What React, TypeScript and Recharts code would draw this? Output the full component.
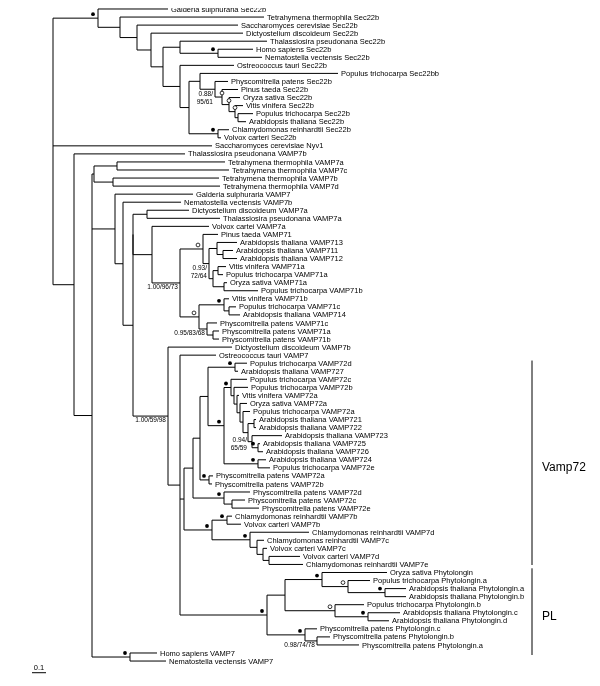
import React from "react";
import { ComposedChart, XAxis, YAxis, Scatter, ReferenceLine } from "recharts";

// Tree in Newick form; the number after ":" is the node's depth (tree units, 14 units = 0.1 substitutions)
const NEWICK = `
(
(Galderia sulphuraria Sec22b:168,
 (Tetrahymena thermophila Sec22b:264,
  (Saccharomyces cerevisiae Sec22b:238,
   (Dictyostelium discoideum Sec22b:243,
    ((Thalassiosira pseudonana Sec22b:267,
      (Homo sapiens Sec22b:253,Nematostella vectensis Sec22b:262)hs22:218
     ):180,
     (Ostreococcus tauri Sec22b:234,
      ((Populus trichocarpa Sec22bb:338,
        (Physcomitrella patens Sec22b:228,
         (Pinus taeda Sec22b:238,
          (Oryza sativa Sec22b:240,
           (Vitis vinifera Sec22b:243,
            (Populus trichocarpa Sec22b:253,Arabidopsis thaliana Sec22b:246):238
           )s13:235
          )s12:229
         )s11:222
        )s10:215
       ):200,
       (Chlamydomonas reinhardtii Sec22b:229,Volvox carteri Sec22b:221)cr22:218
      ):189
     ):180
    ):163
   ):151
  ):137
 ):120
)sec:98,
Saccharomyces cerevisiae Nyv1:212,
(Thalassiosira pseudonana VAMP7b:185,
 (((Tetrahymena thermophila VAMP7a:225,Tetrahymena thermophila VAMP7c:229):117,
   (Tetrahymena thermophila VAMP7b:219,Tetrahymena thermophila VAMP7d:220):113
  ):94,
  ((Galderia sulphuraria VAMP7:193,
    (Nematostella vectensis VAMP7b:181,
     (((Dictyostelium discoideum VAMP7a:189,Thalassiosira pseudonana VAMP7a:220):147,
       (Volvox cartei VAMP7a:209,
        ((Pinus taeda VAMP71:218,
          ((Arabidopsis thaliana VAMP713:237,
            (Arabidopsis thaliana VAMP711:233,Arabidopsis thaliana VAMP712:237):223
           ):217,
           ((Vitis vinifera VAMP71a:226,Populus trichocarpa VAMP71a:223):218,
            (Oryza sativa VAMP71a:227,Populus trichocarpa VAMP71b:258):224
           ):213
          )v71a2:209
         )v71a:203,
         ((Vitis vinifera VAMP71b:229,
           (Populus trichocarpa VAMP71c:236,Arabidopsis thaliana VAMP714:240):229
          )vv71:224,
          (Physcomitrella patens VAMP71c:217,
           (Physcomitrella patens VAMP71a:219,Physcomitrella patens VAMP71b:219):213
          )pp71:207
         )v71b:199
        )v71:180
       ):152
      ):133,
      (Dictyostelium discoideum VAMP7b:232,
       (Ostreococcus tauri VAMP7:216,
        (((((Populus trichocarpa VAMP72d:247,Arabidopsis thaliana VAMP727:238)pa:235,
             ((Populus trichocarpa VAMP72c:247,
               (Populus trichocarpa VAMP72b:248,
                (Vitis vinifera VAMP72a:239,
                 (Oryza sativa VAMP72a:247,
                  (Populus trichocarpa VAMP72a:250,
                   ((Arabidopsis thaliana VAMP721:256,Arabidopsis thaliana VAMP722:256):254,
                    (Arabidopsis thaliana VAMP723:282,
                     (Arabidopsis thaliana VAMP725:260,Arabidopsis thaliana VAMP726:263)a725:258
                    )a723:252
                   ):248
                  ):243
                 ):240
                ):237
               ):234
              )pb:231,
              (Arabidopsis thaliana VAMP724:266,Populus trichocarpa VAMP72e:270)pe:258
             )p224:224
            ):208,
            (Physcomitrella patens VAMP72a:213,Physcomitrella patens VAMP72b:212)ppab:209
           ):200,
           (Physcomitrella patens VAMP72d:250,
            (Physcomitrella patens VAMP72c:245,Physcomitrella patens VAMP72e:259):232
           )ppd:224
          ):193,
          ((Chlamydomonas reinhardtii VAMP7b:232,Volvox carteri VAMP7b:241)cv7b:227,
           (Chlamydomonas reinhardtii VAMP7d:309,
            (Chlamydomonas reinhardtii VAMP7c:264,
             (Volvox carteri VAMP7c:267,
              (Volvox carteri VAMP7d:300,Chlamydomonas reinhardtii VAMP7e:303):269
             ):263
            ):257
           )c7d:250
          )chl7:212
         ):184,
         (((Oryza sativa Phytolongin:387,
            (Populus trichocarpa Phytolongin.a:370,
             (Arabidopsis thaliana Phytolongin.a:406,Arabidopsis thaliana Phytolongin.b:406)apl:385
            )ppla:348
           )ospl:322,
           (Populus trichocarpa Phytolongin.b:364,
            (Arabidopsis thaliana Phytolongin.c:400,Arabidopsis thaliana Phytolongin.d:389)apcd:368
           )pplb:335
          ):285,
          (Physcomitrella patens Phytolongin.c:317,
           (Physcomitrella patens Phytolongin.b:330,Physcomitrella patens Phytolongin.a:359)ppba:317
          )pppl:305
         )pl:267
        ):180
       )v168:168
      ):133
     ):123
    ):115
   ):102,
   (Homo sapiens VAMP7:157,Nematostella vectensis VAMP7:166)hn7:130
  ):92
 ):74
):53
)root:29;
`;

const FILLED_NODES = ["sec", "hs22", "cr22", "vv71", "pa", "pb", "p224", "a725", "pe", "ppab", "ppd", "cv7b", "chl7", "c7d", "pl", "ospl", "apl", "apcd", "pppl", "hn7"];
const OPEN_NODES = ["s11", "s12", "s13", "v71a", "v71b", "ppla", "pplb"];

const SUPPORT_NODES = ["s10", "v71a2", "v71", "pp71", "v168", "a723", "ppba"];
const SUPPORT_TEXT = [["0.88/", "95/61"], ["0.93/", "72/64"], ["1.00/96/73"], ["0.95/83/68"], ["1.00/59/98"], ["0.94/", "65/59"], ["0.98/74/78"]];

const CLADE_NAMES = ["Vamp72", "PL"];
const CLADE_FROM = [44.67, 70.48]; // leaf rows
const CLADE_TO = [70.07, 81.25];

const SCALE_LENGTH = 14; // tree units
const SCALE_LABEL = "0.1";

type TNode = { name: string; x: number; y: number; children: TNode[]; parent?: TNode };

function parseNewick(src: string): TNode {
  const s = src.replace(/\s*([(),:;])\s*/g, "$1").trim();
  let i = 0;
  const node = (): TNode => {
    const children: TNode[] = [];
    if (s[i] === "(") {
      i++;
      children.push(node());
      while (s[i] === ",") {
        i++;
        children.push(node());
      }
      i++;
    }
    let name = "";
    while (i < s.length && !":,);".includes(s[i])) name += s[i++];
    let x = 0;
    if (s[i] === ":") {
      i++;
      let num = "";
      while (i < s.length && /[0-9.\-]/.test(s[i])) num += s[i++];
      x = parseFloat(num);
    }
    const n: TNode = { name: name.trim(), x, y: 0, children };
    children.forEach((c) => (c.parent = n));
    return n;
  };
  return node();
}

const root = parseNewick(NEWICK);
const all: TNode[] = [];
const leaves: TNode[] = [];
(function layout(n: TNode) {
  all.push(n);
  if (n.children.length === 0) {
    leaves.push(n);
    n.y = leaves.length;
    return;
  }
  n.children.forEach(layout);
  n.y = (n.children[0].y + n.children[n.children.length - 1].y) / 2;
})(root);

const byName: Record<string, TNode> = {};
all.forEach((n) => (byName[n.name] = n));

type Seg = { x1: number; y1: number; x2: number; y2: number };
const segments: Seg[] = [];
all.forEach((n) => {
  if (n.parent) segments.push({ x1: n.parent.x, y1: n.y, x2: n.x, y2: n.y });
  if (n.children.length) {
    segments.push({ x1: n.x, y1: n.children[0].y, x2: n.x, y2: n.children[n.children.length - 1].y });
  }
});

const leafData = leaves.map((l) => ({ x: l.x, y: l.y, name: l.name }));
const filledData = FILLED_NODES.map((k) => ({ x: byName[k].x, y: byName[k].y }));
const openData = OPEN_NODES.map((k) => ({ x: byName[k].x, y: byName[k].y, k }));
const supportData = SUPPORT_NODES.map((k, i) => ({ x: byName[k].x, y: byName[k].y, lines: SUPPORT_TEXT[i], k }));
const cladeLabelData = CLADE_NAMES.map((name, i) => ({ x: 532, y: (CLADE_FROM[i] + CLADE_TO[i]) / 2, name }));
const scaleData = [{ x: 32, y: 83.1, label: SCALE_LABEL }];

const FONT = "'Liberation Sans', Arial, Helvetica, sans-serif";
const ON_NODE = ["s11", "s12", "s13"];
// per-label nudges (pixels) for support values that sit beside rather than under their branch
const SUPPORT_NUDGE: Record<string, [number, number]> = { a723: [-3, -5.5] };

const LeafLabel = (p: any) => (
  <text x={p.cx + 3} y={p.cy + 2.6} fontSize={7.5} fontFamily={FONT} fill="#000">
    {p.payload.name}
  </text>
);
const FilledDot = (p: any) => <circle cx={p.cx - 5} cy={p.cy - 4} r={1.9} fill="#000" />;
const OpenDot = (p: any) => {
  const dx = ON_NODE.includes(p.payload.k) ? 0 : -5;
  return <circle cx={p.cx + dx} cy={p.cy - 4} r={1.9} fill="#fff" stroke="#000" strokeWidth={0.8} />;
};
const SupportLabel = (p: any) => {
  const [nx, ny] = SUPPORT_NUDGE[p.payload.k] || [0, 0];
  return (
    <g>
      {p.payload.lines.map((t: string, i: number) => (
        <text
          key={i}
          x={p.cx - 2 + nx}
          y={p.cy + 6.3 + ny + i * 8}
          fontSize={6.5}
          fontFamily={FONT}
          textAnchor="end"
          fill="#000"
        >
          {t}
        </text>
      ))}
    </g>
  );
};
const CladeLabel = (p: any) => (
  <text x={p.cx + 10} y={p.cy + 8} fontSize={12} fontFamily={FONT} fill="#000">
    {p.payload.name}
  </text>
);
const ScaleLabel = (p: any) => (
  <text x={p.cx + 7} y={p.cy + 0.5} fontSize={7.5} fontFamily={FONT} textAnchor="middle" fill="#000">
    {p.payload.label}
  </text>
);

export default function App() {
  return (
    <div style={{ margin: "-8px 0 0 -8px", width: 600, height: 686, filter: "grayscale(1)" }}>
      <ComposedChart width={600} height={686} margin={{ top: 0, right: 0, bottom: 0, left: 0 }}>
        <XAxis type="number" dataKey="x" domain={[0, 600]} hide allowDataOverflow />
        <YAxis type="number" dataKey="y" domain={[-0.118, 85.1]} reversed hide allowDataOverflow />
        {segments.map((s, i) => (
          <ReferenceLine
            key={"s" + i}
            segment={[{ x: s.x1, y: s.y1 }, { x: s.x2, y: s.y2 }]}
            stroke="#000"
            strokeWidth={1}
            ifOverflow="visible"
          />
        ))}
        {CLADE_NAMES.map((c, i) => (
          <ReferenceLine
            key={"c" + i}
            segment={[{ x: 532, y: CLADE_FROM[i] }, { x: 532, y: CLADE_TO[i] }]}
            stroke="#000"
            strokeWidth={1}
            ifOverflow="visible"
          />
        ))}
        <ReferenceLine
          segment={[{ x: 32, y: 83.45 }, { x: 32 + SCALE_LENGTH, y: 83.45 }]}
          stroke="#000"
          strokeWidth={1}
          ifOverflow="visible"
        />
        <Scatter data={leafData} shape={LeafLabel} isAnimationActive={false} />
        <Scatter data={filledData} shape={FilledDot} isAnimationActive={false} />
        <Scatter data={openData} shape={OpenDot} isAnimationActive={false} />
        <Scatter data={supportData} shape={SupportLabel} isAnimationActive={false} />
        <Scatter data={cladeLabelData} shape={CladeLabel} isAnimationActive={false} />
        <Scatter data={scaleData} shape={ScaleLabel} isAnimationActive={false} />
      </ComposedChart>
    </div>
  );
}
